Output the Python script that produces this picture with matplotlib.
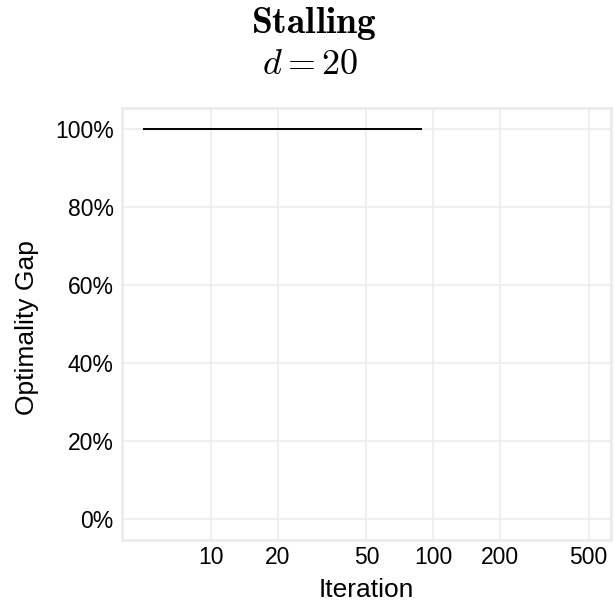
import matplotlib
matplotlib.use("Agg")
import matplotlib.pyplot as plt
from matplotlib.ticker import FixedLocator, FixedFormatter, NullLocator

plt.rcParams["mathtext.fontset"] = "cm"
plt.rcParams["font.family"] = ["Liberation Sans", "DejaVu Sans"]

# Optimality gap per iteration (stalls at 100%)
iterations = [5, 10, 20, 50, 88]
gap = [1.0, 1.0, 1.0, 1.0, 1.0]

x_ticks = [10, 20, 50, 100, 200, 500]
x_tick_labels = ["10", "20", "50", "100", "200", "500"]
y_ticks = [0.0, 0.2, 0.4, 0.6, 0.8, 1.0]
y_tick_labels = ["0%", "20%", "40%", "60%", "80%", "100%"]

W, H = 614, 608
fig = plt.figure(figsize=(W / 100, H / 100), dpi=100)
ax = fig.add_axes([122 / W, 1 - 540 / H, (611 - 122) / W, (540 - 108) / H])

ax.plot(iterations, gap, color="black", linewidth=1.4, zorder=3)

ax.set_xscale("log")
ax.set_xlim(3.97, 631)
ax.set_ylim(-0.055, 1.055)

ax.xaxis.set_major_locator(FixedLocator(x_ticks))
ax.xaxis.set_major_formatter(FixedFormatter(x_tick_labels))
ax.xaxis.set_minor_locator(NullLocator())
ax.yaxis.set_major_locator(FixedLocator(y_ticks))
ax.yaxis.set_major_formatter(FixedFormatter(y_tick_labels))

ax.grid(True, color="#ebebeb", linewidth=1.1, zorder=0)
ax.set_axisbelow(True)
for s in ax.spines.values():
    s.set_color("#ebebeb")
    s.set_linewidth(2.0)
ax.tick_params(axis="both", length=0, labelsize=16.5, colors="black")
ax.tick_params(axis="x", pad=4)
ax.tick_params(axis="y", pad=6)

ax.set_xlabel("Iteration", fontsize=19)
ax.set_ylabel("Optimality Gap", fontsize=19)
ax.xaxis.set_label_coords((366 - 122) / (611 - 122), -(578 - 540) / (540 - 108))
ax.yaxis.set_label_coords(-(122 - 39) / (611 - 122), (540 - 328) / (540 - 108))

fig.text(314 / W, 1 - 24 / H, r"$\mathbf{Stalling}$",
         ha="center", va="center", fontsize=27)
fig.text(310 / W, 1 - 65 / H, r"$d = 20$", ha="center", va="center", fontsize=26)

fig.savefig("out.png", dpi=100, facecolor="white")
